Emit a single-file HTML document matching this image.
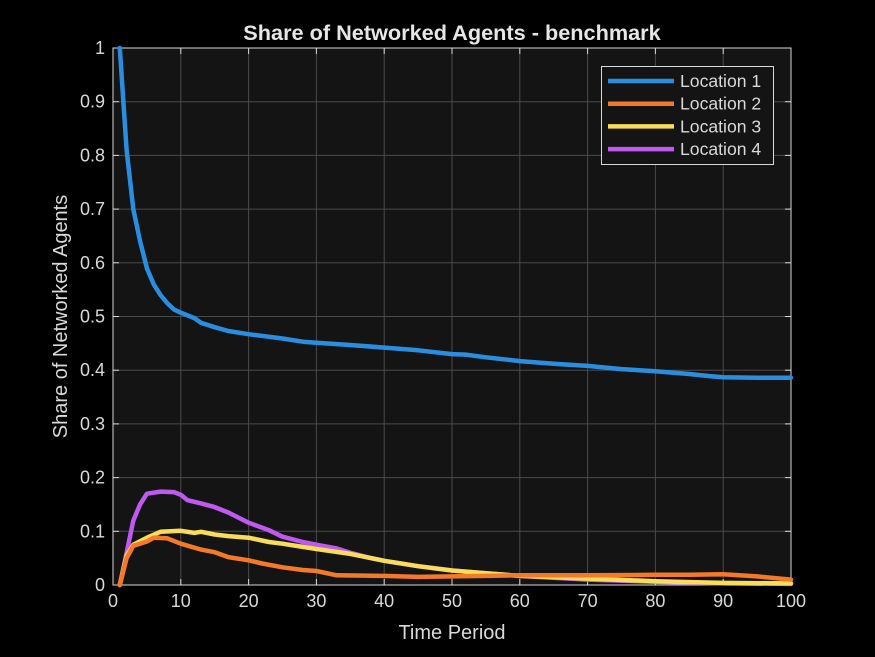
<!DOCTYPE html>
<html><head><meta charset="utf-8"><style>
html,body{margin:0;padding:0;background:#000;}
svg{display:block;font-family:"Liberation Sans",Arial,sans-serif;}
</style></head><body>
<svg id="chart" width="875" height="657" viewBox="0 0 875 657"></svg>
<script>
const xTicks=[0,10,20,30,40,50,60,70,80,90,100];
const yTicks=[0,0.1,0.2,0.3,0.4,0.5,0.6,0.7,0.8,0.9,1];
const yTickLabels=["0","0.1","0.2","0.3","0.4","0.5","0.6","0.7","0.8","0.9","1"];
const seriesNames=["Location 1","Location 2","Location 3","Location 4"];
const loc1X=[1,2,3,4,5,6,7,8,9,10,12,13,15,17,20,25,28,30,35,40,45,50,52,55,60,65,70,75,80,85,88,90,95,100];
const loc1Y=[1.0,0.81,0.70,0.64,0.59,0.56,0.54,0.525,0.513,0.507,0.497,0.488,0.48,0.473,0.467,0.459,0.453,0.451,0.447,0.442,0.437,0.43,0.429,0.424,0.417,0.412,0.408,0.402,0.398,0.393,0.389,0.387,0.386,0.386];
const loc2X=[1,2,3,5,6,8,10,13,15,17,20,22,25,28,30,33,40,45,50,55,60,70,80,85,90,95,100];
const loc2Y=[0,0.05,0.073,0.081,0.088,0.087,0.077,0.066,0.061,0.052,0.046,0.04,0.033,0.028,0.026,0.018,0.017,0.015,0.016,0.017,0.018,0.018,0.019,0.019,0.02,0.016,0.01];
const loc3X=[1,2,3,5,7,10,12,13,15,17,20,23,25,28,30,35,40,45,50,55,60,70,80,90,100];
const loc3Y=[0,0.055,0.075,0.088,0.099,0.101,0.097,0.099,0.094,0.091,0.088,0.08,0.077,0.071,0.067,0.058,0.045,0.035,0.027,0.022,0.017,0.012,0.007,0.004,0.003];
const loc4X=[1,2,3,4,5,7,9,10,11,13,15,17,20,23,25,28,30,33,35,38,40,45,50,55,60,70,80,90,100];
const loc4Y=[0,0.06,0.12,0.15,0.17,0.174,0.173,0.168,0.158,0.152,0.145,0.135,0.116,0.102,0.09,0.08,0.075,0.068,0.06,0.05,0.045,0.035,0.027,0.022,0.017,0.01,0.006,0.003,0.002];

const NS="http://www.w3.org/2000/svg";
const svg=document.getElementById('chart');
const L=113,R=791,T=48,B=585;
const sx=v=>L+(v-0)/(100-0)*(R-L);
const sy=v=>B-(v-0)/(1-0)*(B-T);
function mk(tag,attrs,parent){const e=document.createElementNS(NS,tag);for(const k in attrs)e.setAttribute(k,attrs[k]);(parent||svg).appendChild(e);return e;}

const bg=mk('rect',{x:L,y:T,width:R-L,height:B-T,fill:'#141414'});



const grid=mk('g',{stroke:'#4a4a4a','stroke-width':1});


xTicks.forEach(t=>{mk('line',{x1:sx(t),x2:sx(t),y1:T,y2:B},grid);});
yTicks.forEach(t=>{mk('line',{x1:L,x2:R,y1:sy(t),y2:sy(t)},grid);});

const axes=mk('g',{stroke:'#d9d9d9','stroke-width':1,fill:'none'});


mk('rect',{x:L,y:T,width:R-L,height:B-T},axes);
xTicks.forEach(t=>{mk('line',{x1:sx(t),x2:sx(t),y1:B,y2:B-6},axes);mk('line',{x1:sx(t),x2:sx(t),y1:T,y2:T+6},axes);});
yTicks.forEach(t=>{mk('line',{x1:L,x2:L+6,y1:sy(t),y2:sy(t)},axes);mk('line',{x1:R,x2:R-6,y1:sy(t),y2:sy(t)},axes);});

xTicks.forEach(t=>{const e=mk('text',{x:sx(t),y:B+22,'text-anchor':'middle','font-size':18,fill:'#d9d9d9'});e.textContent=String(t);

});
yTicks.forEach((t,i)=>{const e=mk('text',{x:L-8,y:sy(t)+6,'text-anchor':'end','font-size':18,fill:'#d9d9d9'});e.textContent=yTickLabels[i];

});

const xt=mk('text',{x:(L+R)/2,y:639,'text-anchor':'middle','font-size':20,fill:'#d9d9d9'});xt.textContent='Time Period';


const yt=mk('text',{x:0,y:0,'text-anchor':'middle','font-size':20,fill:'#d9d9d9',transform:'translate(67,'+((T+B)/2)+') rotate(-90)'});yt.textContent='Share of Networked Agents';


const ti=mk('text',{x:(L+R)/2,y:40,'text-anchor':'middle','font-size':21.7,'font-weight':'bold',fill:'#e6e6e6'});ti.textContent='Share of Networked Agents - benchmark';



const colors=['#2a8ee0','#f47a2a','#f8dc5a','#bf5af0'];
const xs=[loc1X,loc2X,loc3X,loc4X], ys=[loc1Y,loc2Y,loc3Y,loc4Y];
[3,2,1,0].forEach(i=>{
  const d=xs[i].map((x,j)=>(j?'L':'M')+sx(x).toFixed(1)+','+sy(ys[i][j]).toFixed(1)).join('');
  const p=mk('path',{d:d,fill:'none',stroke:colors[i],'stroke-width':4.5,'stroke-linejoin':'round','stroke-linecap':'round'});
  
  
});

const lg=mk('g',{});


mk('rect',{x:601.5,y:66.5,width:172,height:98,fill:'#141414',stroke:'#d9d9d9','stroke-width':1},lg);
seriesNames.forEach((n,i)=>{
  const yy=81+i*22.7;
  const en=mk('g',{},lg);
  
  
  mk('line',{x1:608,x2:674,y1:yy,y2:yy,stroke:colors[i],'stroke-width':4.5},en);
  const t=mk('text',{x:680,y:yy+6,'font-size':17.6,fill:'#d9d9d9'},en);t.textContent=n;
});
</script>
</body></html>
